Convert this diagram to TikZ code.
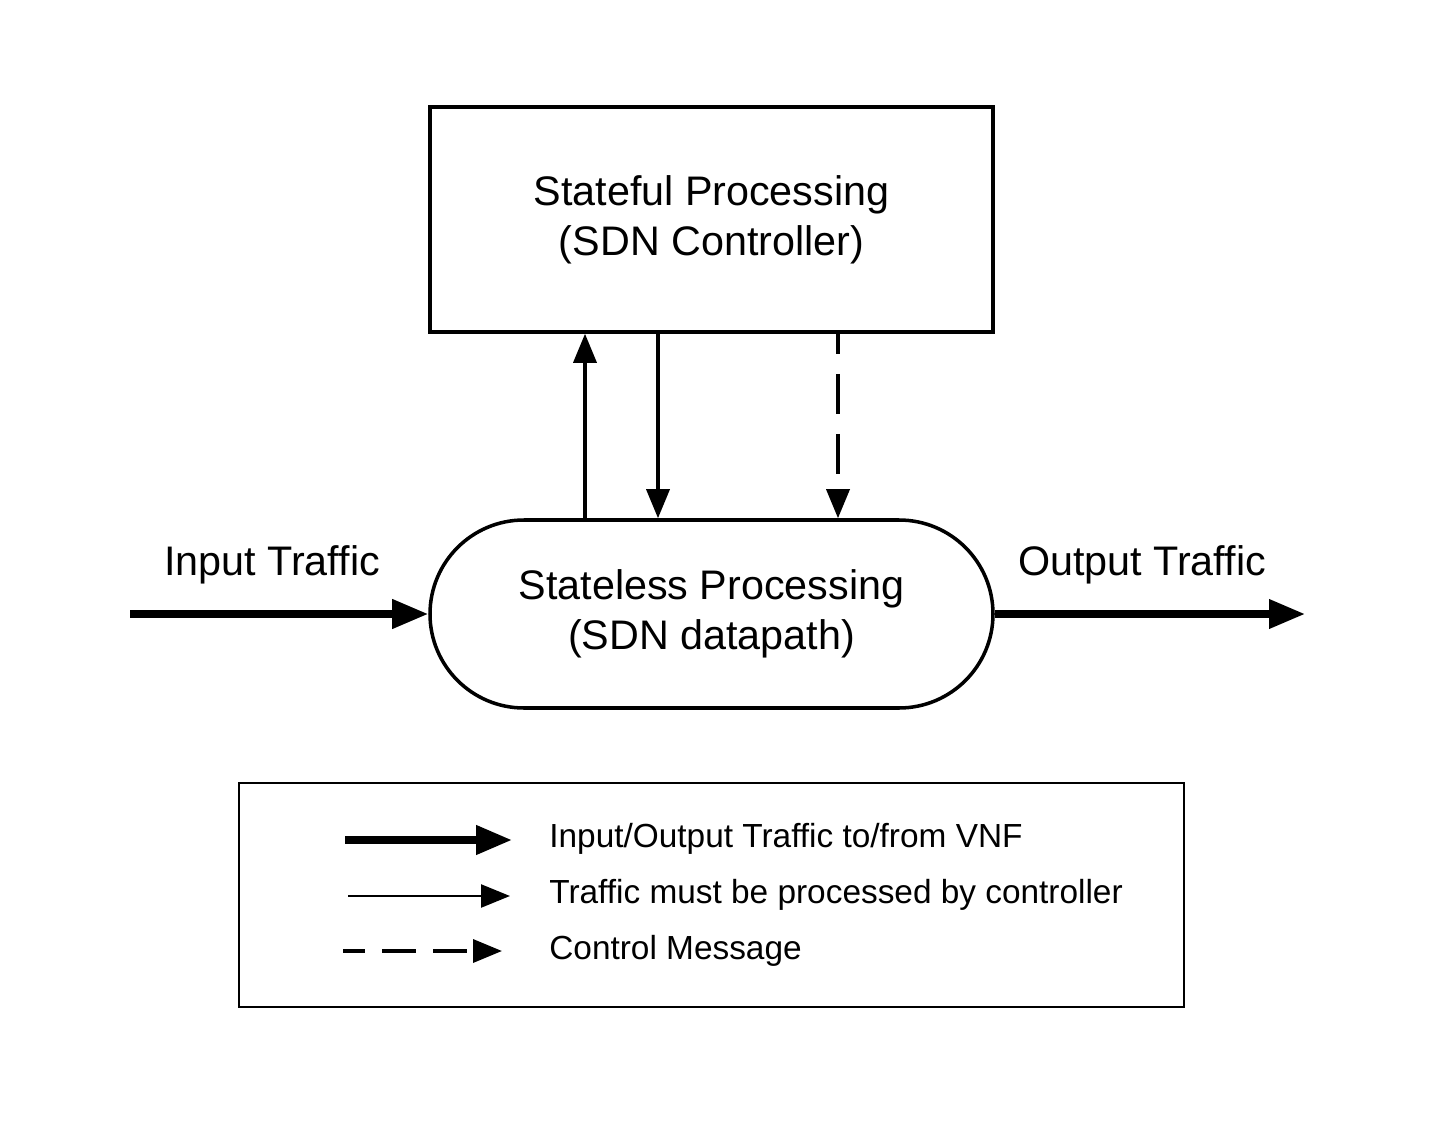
\documentclass[tikz,border=0pt]{standalone}
\usepackage{fontspec}
\setmainfont{Liberation Sans}
\usetikzlibrary{arrows.meta, positioning}

\begin{document}
\begin{tikzpicture}
[
	box/.style={rectangle,draw,line width=2pt,minimum width=11.26cm,minimum height=4.5cm,align=center,font=\fontsize{23.5}{28.5}\selectfont},
	pill/.style={box,rounded corners=1.88cm,minimum height=3.76cm},
	lbl/.style={anchor=base,font=\fontsize{23.5}{28.5}\selectfont},
	leg/.style={anchor=base west,inner sep=0pt,font=\fontsize{19}{23}\selectfont},
	thk/.style={line width=4pt,-{Triangle[length=0.72cm,width=0.56cm]}},
	thn/.style={line width=2pt,-{Triangle[length=0.58cm,width=0.46cm]}},
	dsh/.style={thn,dash pattern=on 0.8cm off 0.4cm,dash phase=0.4cm}
]
\useasboundingbox (0,0) rectangle (29,-22.86);

\node[box] (ctrl) at (14.23,-4.39) {Stateful Processing\\(SDN Controller)};
\node[pill] (dp) at (14.23,-12.28) {Stateless Processing\\(SDN datapath)};

\draw[thn] ([xshift=-2.53cm]dp.north) -- ([xshift=-2.53cm]ctrl.south);
\draw[thn] ([xshift=-1.07cm]ctrl.south) -- ([xshift=-1.07cm]dp.north);
\draw[dsh] ([xshift=2.53cm]ctrl.south) -- ([xshift=2.53cm]dp.north);

\coordinate (in) at (2.6,-12.28);
\coordinate (out) at (26.1,-12.28);
\node[lbl] (inl) at (5.44,-11.5) {Input Traffic};
\node[lbl] (outl) at (22.84,-11.5) {Output Traffic};
\draw[thk] (in) -- (dp.west);
\draw[thk] (dp.east) -- (out);

% legend
\node[rectangle,draw,line width=1.5pt,minimum width=18.9cm,minimum height=4.48cm] (legend) at (14.23,-17.9) {};

\node[leg] (t1) at (10.98,-16.94) {Input/Output Traffic to/from VNF};
\node[leg] (t2) at (10.98,-18.06) {Traffic must be processed by controller};
\node[leg] (t3) at (10.98,-19.18) {Control Message};

\coordinate (a1) at (6.9,-16.8);   \coordinate (b1) at (10.24,-16.8);
\coordinate (a2) at (6.96,-17.92); \coordinate (b2) at (10.2,-17.92);
\coordinate (a3) at (6.86,-19.02); \coordinate (b3) at (10.04,-19.02);

\draw[thk,line width=4.2pt] (a1) -- (b1);
\draw[thn,line width=1.4pt] (a2) -- (b2);
\draw[dsh,dash pattern=on 0.68cm off 0.34cm,dash phase=0.24cm] (a3) -- (b3);

\end{tikzpicture}
\end{document}
